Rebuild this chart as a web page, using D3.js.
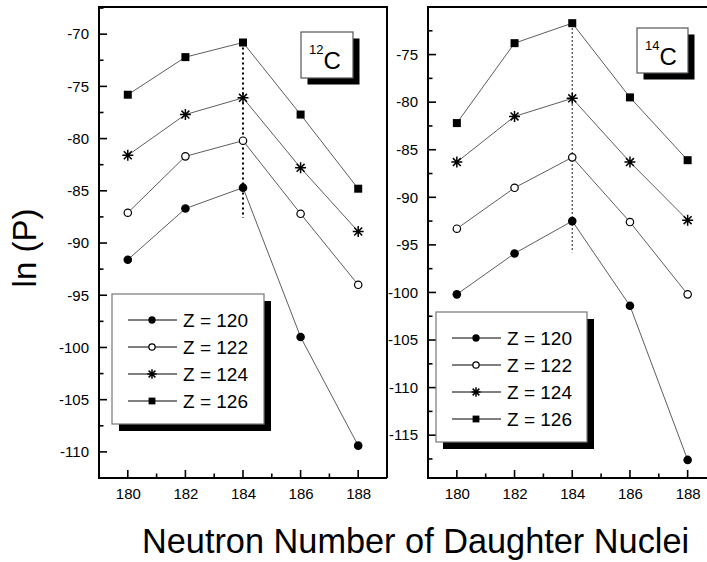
<!DOCTYPE html>
<html>
<head>
<meta charset="utf-8">
<script src="https://cdn.jsdelivr.net/npm/d3@7"></script>
<style>
  html, body { margin: 0; padding: 0; background: #fff; }
  svg { display: block; font-family: Arial, "Liberation Sans", Helvetica, sans-serif; }
</style>
</head>
<body>
<svg id="chart" width="707" height="562"></svg>
<script>
// Neutron numbers of the daughter nuclei
const neutrons = [180, 182, 184, 186, 188];
const xTicks = [180, 182, 184, 186, 188];

// Series labels (parent proton number)
const seriesZ = [120, 122, 124, 126];
const seriesSymbols = ["filledCircle", "openCircle", "star", "filledSquare"];

// ln(P) for 12C emission
const c12_Z120 = [-91.6, -86.7, -84.7, -99.0, -109.4];
const c12_Z122 = [-87.1, -81.7, -80.2, -87.2, -94.0];
const c12_Z124 = [-81.6, -77.7, -76.1, -82.8, -88.9];
const c12_Z126 = [-75.8, -72.2, -70.8, -77.7, -84.8];

// ln(P) for 14C emission
const c14_Z120 = [-100.2, -95.9, -92.5, -101.4, -117.6];
const c14_Z122 = [-93.3, -89.0, -85.8, -92.6, -100.2];
const c14_Z124 = [-86.3, -81.5, -79.6, -86.3, -92.4];
const c14_Z126 = [-82.2, -73.8, -71.7, -79.5, -86.1];

const c12TicksY = [-110, -105, -100, -95, -90, -85, -80, -75, -70];
const c14TicksY = [-115, -110, -105, -100, -95, -90, -85, -80, -75];

const panels = [
  {
    cluster: "12", series: [c12_Z120, c12_Z122, c12_Z124, c12_Z126],
    x0: 99, x1: 387, yDomain: [-112.5, -67.4], yTicks: c12TicksY,
    peakTo: -87.6, dotWidth: 2,
    legend: { x: 112, y: 294, w: 152, h: 130 },
    tag: { x: 301, y: 32, w: 52, h: 46 }
  },
  {
    cluster: "14", series: [c14_Z120, c14_Z122, c14_Z124, c14_Z126],
    x0: 428, x1: 716.5, yDomain: [-119.5, -70], yTicks: c14TicksY,
    peakTo: -95.8, dotWidth: 1.2,
    legend: { x: 436, y: 312, w: 151, h: 130 },
    tag: { x: 637, y: 28, w: 51, h: 45 }
  }
];

const svg = d3.select("#chart");
const plotTop = 7, plotBottom = 478;
const plainNumber = d => String(d);   // ASCII hyphen for negatives

function drawSymbol(g, type, cx, cy, s) {
  if (type === "filledCircle") {
    g.append("circle").attr("cx", cx).attr("cy", cy).attr("r", 4.3 * s).attr("fill", "#000");
  } else if (type === "openCircle") {
    g.append("circle").attr("cx", cx).attr("cy", cy).attr("r", 3.7 * s)
      .attr("fill", "#fff").attr("stroke", "#000").attr("stroke-width", 1.2);
  } else if (type === "filledSquare") {
    const h = 4 * s;
    g.append("rect").attr("x", cx - h).attr("y", cy - h).attr("width", 2 * h).attr("height", 2 * h).attr("fill", "#000");
  } else if (type === "star") {
    const r = 5.5 * s, d = r * 0.72;
    const path = `M${cx},${cy - r}V${cy + r}M${cx - r},${cy}H${cx + r}` +
      `M${cx - d},${cy - d}L${cx + d},${cy + d}M${cx - d},${cy + d}L${cx + d},${cy - d}`;
    g.append("path").attr("d", path).attr("stroke", "#000").attr("stroke-width", 1.5).attr("fill", "none");
  }
}

panels.forEach(p => {
  const x = d3.scaleLinear().domain([179, 189]).range([p.x0, p.x1]);
  const y = d3.scaleLinear().domain(p.yDomain).range([plotBottom, plotTop]);
  const g = svg.append("g");

  // frame: top and right edges
  g.append("path")
    .attr("d", `M${p.x0},${plotTop}H${p.x1}V${plotBottom}`)
    .attr("fill", "none").attr("stroke", "#000").attr("stroke-width", 2);

  // bottom axis with inward ticks
  const xAxis = g.append("g").attr("transform", `translate(0,${plotBottom})`)
    .call(d3.axisBottom(x).tickValues(xTicks).tickFormat(plainNumber).tickSize(0).tickPadding(10));
  xAxis.select(".domain").remove();
  xAxis.selectAll("text").attr("font-size", 15).attr("font-family", "Arial, 'Liberation Sans', sans-serif").attr("fill", "#000");
  d3.range(179, 190).forEach(v => {
    const major = v % 2 === 0;
    g.append("line").attr("x1", x(v)).attr("x2", x(v))
      .attr("y1", plotBottom).attr("y2", plotBottom - (major ? 8 : 4.5))
      .attr("stroke", "#000").attr("stroke-width", 1.6);
  });
  g.append("line").attr("x1", p.x0 - 1).attr("x2", Math.min(p.x1, 707)).attr("y1", plotBottom).attr("y2", plotBottom)
    .attr("stroke", "#000").attr("stroke-width", 2);

  // left axis with inward ticks
  const yAxis = g.append("g").attr("transform", `translate(${p.x0},0)`)
    .call(d3.axisLeft(y).tickValues(p.yTicks).tickFormat(plainNumber).tickSize(0).tickPadding(10));
  yAxis.select(".domain").remove();
  yAxis.selectAll("text").attr("font-size", 15).attr("font-family", "Arial, 'Liberation Sans', sans-serif").attr("fill", "#000");
  const [lo, hi] = p.yDomain;
  for (let v = Math.ceil(lo / 2.5) * 2.5; v <= hi; v += 2.5) {
    const major = Math.abs(v % 5) < 1e-6;
    g.append("line").attr("x1", p.x0).attr("x2", p.x0 + (major ? 8 : 4.5))
      .attr("y1", y(v)).attr("y2", y(v)).attr("stroke", "#000").attr("stroke-width", 1.6);
  }
  g.append("line").attr("x1", p.x0).attr("x2", p.x0).attr("y1", plotTop - 1).attr("y2", plotBottom + 1)
    .attr("stroke", "#000").attr("stroke-width", 2);

  // dotted guide through the maxima at N = 184
  const peakIdx = neutrons.indexOf(184);
  g.append("line").attr("x1", x(184)).attr("x2", x(184))
    .attr("y1", y(p.series[3][peakIdx]) + 5).attr("y2", y(p.peakTo))
    .attr("stroke", "#000").attr("stroke-width", p.dotWidth)
    .attr("stroke-dasharray", p.dotWidth > 1.5 ? "2,3" : "1.5,2.5");

  // series lines and symbols
  const line = d3.line().x((d, i) => x(neutrons[i])).y(d => y(d));
  p.series.forEach((vals, si) => {
    g.append("path").datum(vals).attr("d", line)
      .attr("fill", "none").attr("stroke", "#333").attr("stroke-width", 0.8);
  });
  p.series.forEach((vals, si) => {
    vals.forEach((v, i) => drawSymbol(g, seriesSymbols[si], x(neutrons[i]), y(v), 1));
  });

  // legend box with drop shadow
  const L = p.legend;
  g.append("rect").attr("x", L.x + 7).attr("y", L.y + 7).attr("width", L.w).attr("height", L.h).attr("fill", "#000");
  g.append("rect").attr("x", L.x).attr("y", L.y).attr("width", L.w).attr("height", L.h)
    .attr("fill", "#fff").attr("stroke", "#777").attr("stroke-width", 1.2);
  seriesZ.forEach((z, i) => {
    const ry = L.y + 26 + i * 27;
    g.append("line").attr("x1", L.x + 16).attr("x2", L.x + 65).attr("y1", ry).attr("y2", ry)
      .attr("stroke", "#000").attr("stroke-width", 1);
    drawSymbol(g, seriesSymbols[i], L.x + 40, ry, 0.85);
    g.append("text").attr("x", L.x + 71).attr("y", ry + 7)
      .attr("font-size", 19).attr("fill", "#000").text(`Z = ${z}`);
  });

  // cluster tag with drop shadow
  const T = p.tag;
  g.append("rect").attr("x", T.x + 6.5).attr("y", T.y + 6.5).attr("width", T.w).attr("height", T.h).attr("fill", "#000");
  g.append("rect").attr("x", T.x).attr("y", T.y).attr("width", T.w).attr("height", T.h)
    .attr("fill", "#fff").attr("stroke", "#555").attr("stroke-width", 1.2);
  const tt = g.append("text").attr("x", T.x + 8).attr("y", T.y + 37).attr("fill", "#000");
  tt.append("tspan").attr("font-size", 13).attr("dy", -15).text(p.cluster);
  tt.append("tspan").attr("font-size", 24).attr("dy", 15).text("C");
});

// axis titles
svg.append("text")
  .attr("transform", "translate(36,248) rotate(-90)")
  .attr("text-anchor", "middle").attr("font-size", 33).attr("fill", "#000")
  .text("ln (P)");
svg.append("text")
  .attr("x", 142).attr("y", 553)
  .attr("font-size", 34.3).attr("fill", "#000")
  .text("Neutron Number of Daughter Nuclei");
</script>
</body>
</html>
